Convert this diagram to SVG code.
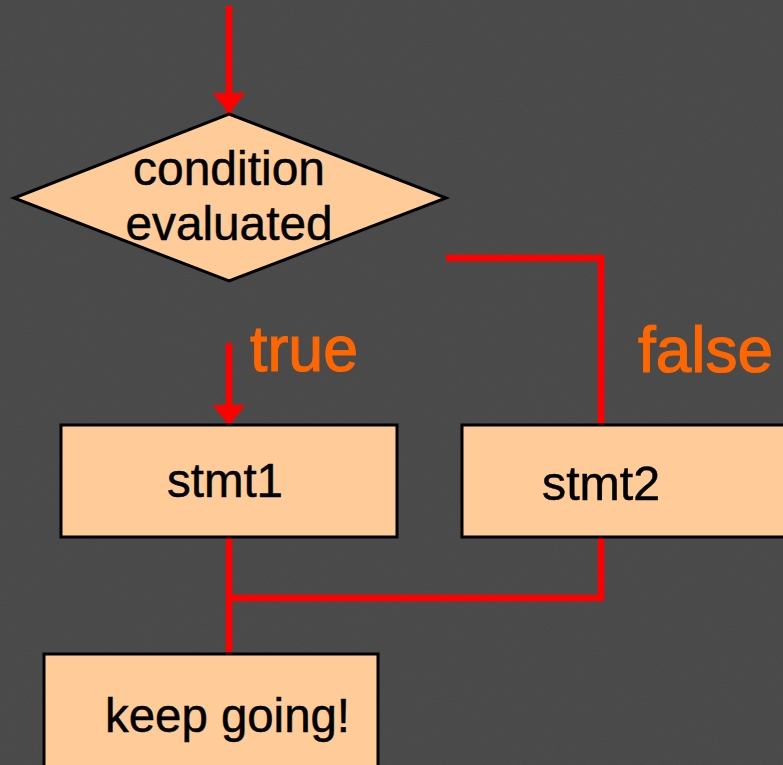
<svg xmlns="http://www.w3.org/2000/svg" width="783" height="765" viewBox="0 0 783 765">
  <defs>
    <style>
      .box { fill: #FFCC99; stroke: #000; stroke-width: 3; }
      .wire { fill: none; stroke: #FF0000; stroke-width: 6.5; stroke-linecap: butt; stroke-linejoin: miter; }
      .lbl { font-family: "Liberation Sans", Arial, sans-serif; font-size: 48px; fill: #000; stroke: #000; stroke-width: 0.5; }
      .branch { font-family: "Liberation Sans", Arial, sans-serif; font-size: 64px; fill: #FF6600; stroke: #FF6600; stroke-width: 1.2; }
    </style>
    <marker id="head" viewBox="0 0 20 33" refX="20" refY="16.5" markerWidth="20" markerHeight="33" markerUnits="userSpaceOnUse" orient="auto">
      <path d="M0,0 L20,16.5 L0,33 Z" fill="#FF0000"/>
    </marker>
    <filter id="grain" x="0" y="0" width="100%" height="100%">
      <feTurbulence type="fractalNoise" baseFrequency="0.9" numOctaves="2" seed="3" result="n"/>
      <feColorMatrix in="n" type="matrix" values="0 0 0 0 0  0 0 0 0 0  0 0 0 0 0  0 0 0 0.1 0"/>
    </filter>
  </defs>

  <!-- background -->
  <rect width="783" height="765" fill="#4e4e4e"/>
  <rect width="783" height="765" filter="url(#grain)"/>

  <!-- connectors -->
  <g id="connectors">
    <path class="wire" d="M229,6 V113" marker-end="url(#head)"/>
    <path class="wire" d="M229,343 V425" marker-end="url(#head)"/>
    <path class="wire" d="M446,258 H601 V425"/>
    <path class="wire" d="M229,537 V654"/>
    <path class="wire" d="M601,537 V598 H229"/>
  </g>

  <!-- decision -->
  <g id="condition">
    <polygon class="box" points="229,114 446,198 229,281 14,198"/>
    <text class="lbl" x="229" y="185" text-anchor="middle" textLength="192" lengthAdjust="spacingAndGlyphs">condition</text>
    <text class="lbl" x="229" y="240" text-anchor="middle" textLength="207" lengthAdjust="spacingAndGlyphs">evaluated</text>
  </g>

  <g id="label-true">
    <text class="branch" x="250" y="371" textLength="108" lengthAdjust="spacingAndGlyphs">true</text>
  </g>
  <g id="label-false">
    <text class="branch" x="638" y="372" textLength="135" lengthAdjust="spacingAndGlyphs">false</text>
  </g>

  <g id="stmt1">
    <rect class="box" x="61" y="425" width="336" height="112"/>
    <text class="lbl" x="225" y="497" text-anchor="middle" textLength="116" lengthAdjust="spacingAndGlyphs">stmt1</text>
  </g>

  <g id="stmt2">
    <rect class="box" x="462" y="425" width="340" height="112"/>
    <text class="lbl" x="601" y="500" text-anchor="middle" textLength="118" lengthAdjust="spacingAndGlyphs">stmt2</text>
  </g>

  <g id="keep-going">
    <rect class="box" x="44" y="654" width="334" height="130"/>
    <text class="lbl" x="227.5" y="732" text-anchor="middle" textLength="245" lengthAdjust="spacingAndGlyphs">keep going!</text>
  </g>
</svg>
